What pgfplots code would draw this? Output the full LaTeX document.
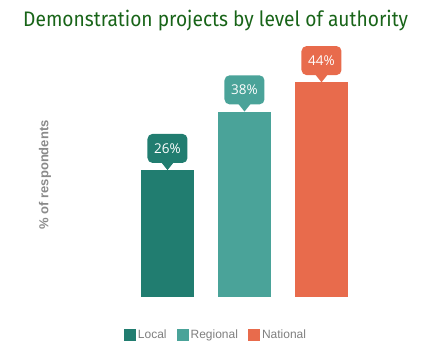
\documentclass[border=0pt]{standalone}
\usepackage{pgfplots}
\pgfplotsset{compat=1.18}
\usepackage{fontspec}
\setmainfont{Liberation Sans}
\newfontfamily\titlefont{Fira Sans}
\newfontfamily\labelfont{Open Sans}
\definecolor{localc}{HTML}{217D70}
\definecolor{regc}{HTML}{4AA399}
\definecolor{natc}{HTML}{E86B4C}
\definecolor{titlec}{HTML}{186418}
\definecolor{greyc}{HTML}{8A8A8A}
\definecolor{legc}{HTML}{7F7F7F}
\begin{document}
\begin{tikzpicture}[x=1pt,y=1pt]
\useasboundingbox (0,0) rectangle (442,363);
\begin{axis}[
  at={(90.5pt,66pt)}, anchor=south west,
  scale only axis, width=308pt, height=268.4pt,
  xmin=-1, xmax=3, ymin=0, ymax=55,
  axis line style={draw=none}, xtick=\empty, ytick=\empty,
  ybar, bar width=53pt, bar shift=0pt,
  title={\scalebox{0.913}[1]{\titlefont\fontsize{21}{24}\selectfont Demonstration projects by level of authority}},
  title style={at={(axis description cs:-0.219,0.9855)}, anchor=base west, text=titlec, inner sep=0pt},
  ylabel={\bfseries\fontsize{13}{15}\selectfont \% of respondents},
  ylabel style={at={(axis description cs:-0.148,0.455)}, anchor=center, text=greyc, inner sep=0pt},
  nodes near coords={\pgfmathprintnumber[assume math mode=true]{\pgfplotspointmeta}\%},
  every node near coord/.append style={font=\labelfont\fontsize{13.5}{15}\selectfont, text=white, rounded corners=5pt, minimum width=40pt, minimum height=29pt, inner sep=0pt, anchor=south, yshift=7pt},
  legend style={at={(axis description cs:0.4075,-0.1416)}, anchor=center, draw=none, fill=none, font=\fontsize{12}{14}\selectfont, text=legc, /tikz/every even column/.append style={column sep=8pt}},
  legend columns=3,
  legend image code/.code={\fill[#1] (-2pt,-6pt) rectangle (10pt,6pt);},
]
\addplot[fill=localc, draw=none, every node near coord/.append style={fill=localc, append after command={\pgfextra{\let\mn=\tikzlastnode \fill[localc] (\mn.south) ++(-6pt,0.5pt) -- ++(12pt,0pt) -- ++(-6pt,-7.5pt) -- cycle;}}}] coordinates {(0,26)};
\addlegendentry{Local}
\addplot[fill=regc, draw=none, every node near coord/.append style={fill=regc, append after command={\pgfextra{\let\mn=\tikzlastnode \fill[regc] (\mn.south) ++(-6pt,0.5pt) -- ++(12pt,0pt) -- ++(-6pt,-7.5pt) -- cycle;}}}] coordinates {(1,38)};
\addlegendentry{Regional}
\addplot[fill=natc, draw=none, every node near coord/.append style={fill=natc, append after command={\pgfextra{\let\mn=\tikzlastnode \fill[natc] (\mn.south) ++(-6pt,0.5pt) -- ++(12pt,0pt) -- ++(-6pt,-7.5pt) -- cycle;}}}] coordinates {(2,44)};
\addlegendentry{National}
\end{axis}
\end{tikzpicture}
\end{document}
